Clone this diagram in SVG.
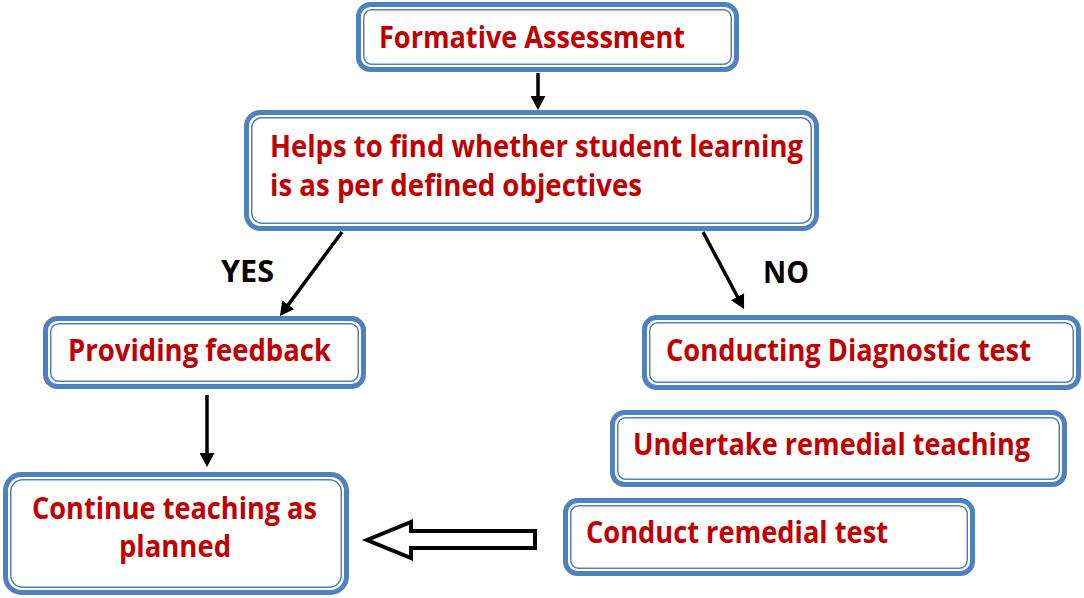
<svg xmlns="http://www.w3.org/2000/svg" width="1084" height="598" viewBox="0 0 1084 598">
<style>
.o{fill:#fff;stroke:#4F81BD;stroke-width:5}
.i{fill:none;stroke:#4F81BD;stroke-width:1.5}
.t{font-family:"Open Sans","Noto Sans",sans-serif;font-weight:bold;font-size:30px;fill:#C00000}
.k{font-family:"Open Sans","Noto Sans",sans-serif;font-weight:bold;font-size:30px;fill:#000}
.c{stroke:#000;stroke-width:3.5;fill:none}
</style>
<defs>
<marker id="ah" viewBox="0 0 14 15" refX="6" refY="7.5" markerWidth="14" markerHeight="15" orient="auto" markerUnits="userSpaceOnUse">
<path d="M0,0 L14,7.5 L0,15 Z" fill="#000"/>
</marker>
</defs>
<rect width="1084" height="598" fill="#fff"/>
<g id="n1">
<rect class="o" x="358.5" y="4.5" width="378" height="65" rx="12"/>
<rect class="i" x="363.75" y="9.75" width="367.5" height="54.5" rx="8"/>
<text class="t" x="379" y="48" textLength="306" lengthAdjust="spacingAndGlyphs">Formative Assessment</text>
</g>
<g id="n2">
<rect class="o" x="246.5" y="112.5" width="570" height="116" rx="14"/>
<rect class="i" x="251.75" y="117.75" width="559.5" height="105.5" rx="10"/>
<text class="t" x="270" y="157" textLength="533" lengthAdjust="spacingAndGlyphs">Helps to find whether student learning</text>
<text class="t" x="270" y="196" textLength="372" lengthAdjust="spacingAndGlyphs">is as per defined objectives</text>
</g>
<g id="n3">
<rect class="o" x="45.5" y="318.5" width="318" height="68" rx="12"/>
<rect class="i" x="50.75" y="323.75" width="307.5" height="57.5" rx="8"/>
<text class="t" x="68" y="361" textLength="263" lengthAdjust="spacingAndGlyphs">Providing feedback</text>
</g>
<g id="n4">
<rect class="o" x="644.5" y="317.5" width="434" height="70" rx="12"/>
<rect class="i" x="649.75" y="322.75" width="423.5" height="59.5" rx="8"/>
<text class="t" x="666" y="361" textLength="365" lengthAdjust="spacingAndGlyphs">Conducting Diagnostic test</text>
</g>
<g id="n5">
<rect class="o" x="612.5" y="412.5" width="452" height="72" rx="12"/>
<rect class="i" x="617.75" y="417.75" width="441.5" height="61.5" rx="8"/>
<text class="t" x="633" y="455" textLength="397" lengthAdjust="spacingAndGlyphs">Undertake remedial teaching</text>
</g>
<g id="n6">
<rect class="o" x="565.5" y="500.5" width="407" height="73" rx="12"/>
<rect class="i" x="570.75" y="505.75" width="396.5" height="62.5" rx="8"/>
<text class="t" x="586" y="543" textLength="302" lengthAdjust="spacingAndGlyphs">Conduct remedial test</text>
</g>
<g id="n7">
<rect class="o" x="5.5" y="474.5" width="341" height="118" rx="16"/>
<rect class="i" x="10.75" y="479.75" width="330.5" height="107.5" rx="12"/>
<text class="t" x="32" y="519" textLength="285" lengthAdjust="spacingAndGlyphs">Continue teaching as</text>
<text class="t" x="119" y="557" textLength="112" lengthAdjust="spacingAndGlyphs">planned</text>
</g>
<g id="connectors">
<line class="c" x1="538" y1="73" x2="538" y2="102" marker-end="url(#ah)"/>
<line class="c" x1="342" y1="232" x2="284.7" y2="309.6" marker-end="url(#ah)"/>
<line class="c" x1="703" y1="232" x2="740.3" y2="302" marker-end="url(#ah)"/>
<line class="c" x1="207" y1="395" x2="207" y2="459" marker-end="url(#ah)"/>
<path d="M367,540 L411,522 L411,531 L535,531 L535,548 L411,548 L411,558 Z" fill="#fff" stroke="#000" stroke-width="4" stroke-linejoin="miter"/>
<text class="k" x="221" y="282" textLength="53" lengthAdjust="spacingAndGlyphs">YES</text>
<text class="k" x="763" y="283" textLength="46" lengthAdjust="spacingAndGlyphs">NO</text>
</g>
</svg>
